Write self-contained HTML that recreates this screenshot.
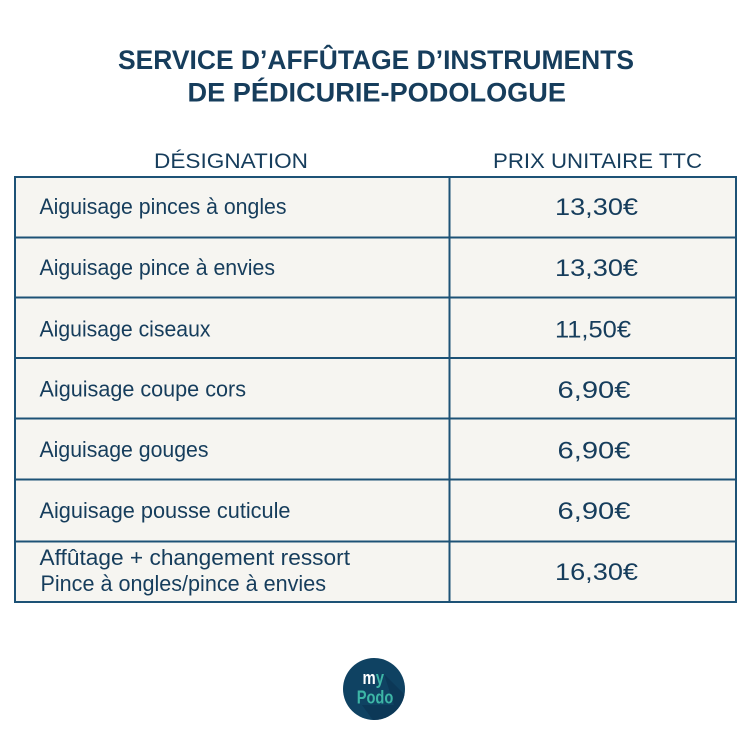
<!DOCTYPE html>
<html>
<head>
<meta charset="utf-8">
<style>
  html, body { margin:0; padding:0; background:#ffffff; }
  body { width:750px; height:750px; overflow:hidden; }
  svg { display:block; }
  text { font-family: "Liberation Sans", "DejaVu Sans", sans-serif; fill:#163d5c; }
</style>
</head>
<body>
<svg width="750" height="750" viewBox="0 0 750 750" xmlns="http://www.w3.org/2000/svg">
  <rect x="0" y="0" width="750" height="750" fill="#ffffff"/>

  <!-- Title -->
  <text x="118" y="69" font-size="27" font-weight="bold" textLength="516" lengthAdjust="spacingAndGlyphs">SERVICE D’AFFÛTAGE D’INSTRUMENTS</text>
  <text x="187.5" y="101.5" font-size="27" font-weight="bold" textLength="378.5" lengthAdjust="spacingAndGlyphs">DE PÉDICURIE-PODOLOGUE</text>

  <!-- Column headers -->
  <text x="154" y="168" font-size="21" textLength="154" lengthAdjust="spacingAndGlyphs">DÉSIGNATION</text>
  <text x="493" y="168" font-size="21" textLength="209" lengthAdjust="spacingAndGlyphs">PRIX UNITAIRE TTC</text>

  <!-- Table background -->
  <rect x="15" y="177" width="721" height="425" fill="#f6f5f1"/>

  <!-- Grid lines -->
  <g stroke="#1d5276" stroke-width="2" fill="none">
    <rect x="15" y="177" width="721" height="425"/>
    <line x1="449.5" y1="177" x2="449.5" y2="602"/>
    <line x1="15" y1="237.5" x2="736" y2="237.5"/>
    <line x1="15" y1="297.5" x2="736" y2="297.5"/>
    <line x1="15" y1="358" x2="736" y2="358"/>
    <line x1="15" y1="418.5" x2="736" y2="418.5"/>
    <line x1="15" y1="479.5" x2="736" y2="479.5"/>
    <line x1="15" y1="541.5" x2="736" y2="541.5"/>
  </g>

  <!-- Row labels -->
  <g font-size="22.5">
    <text x="39.5" y="214" textLength="247" lengthAdjust="spacingAndGlyphs">Aiguisage pinces à ongles</text>
    <text x="39.5" y="275" textLength="235.5" lengthAdjust="spacingAndGlyphs">Aiguisage pince à envies</text>
    <text x="39.5" y="336.5" textLength="171" lengthAdjust="spacingAndGlyphs">Aiguisage ciseaux</text>
    <text x="39.5" y="396.5" textLength="206.5" lengthAdjust="spacingAndGlyphs">Aiguisage coupe cors</text>
    <text x="39.5" y="457" textLength="169" lengthAdjust="spacingAndGlyphs">Aiguisage gouges</text>
    <text x="39.5" y="518" textLength="251" lengthAdjust="spacingAndGlyphs">Aiguisage pousse cuticule</text>
    <text x="39.5" y="565" textLength="310.5" lengthAdjust="spacingAndGlyphs">Affûtage + changement ressort</text>
    <text x="40.5" y="591" textLength="285.5" lengthAdjust="spacingAndGlyphs">Pince à ongles/pince à envies</text>
  </g>

  <!-- Prices -->
  <g font-size="24">
    <text x="555" y="215" textLength="83" lengthAdjust="spacingAndGlyphs">13,30€</text>
    <text x="555" y="276" textLength="83" lengthAdjust="spacingAndGlyphs">13,30€</text>
    <text x="555" y="337.3" textLength="76" lengthAdjust="spacingAndGlyphs">11,50€</text>
    <text x="557.5" y="398" textLength="73" lengthAdjust="spacingAndGlyphs">6,90€</text>
    <text x="557.5" y="458.3" textLength="73" lengthAdjust="spacingAndGlyphs">6,90€</text>
    <text x="557.5" y="519" textLength="73" lengthAdjust="spacingAndGlyphs">6,90€</text>
    <text x="555" y="580" textLength="83" lengthAdjust="spacingAndGlyphs">16,30€</text>
  </g>

  <!-- Logo -->
  <defs>
    <clipPath id="lc"><circle cx="374" cy="689" r="31"/></clipPath>
  </defs>
  <circle cx="374" cy="689" r="31" fill="#0f4262"/>
  <g clip-path="url(#lc)">
    <polygon points="384,674 406,696 406,730 380,730 362,705 394,705" fill="#0b3655" opacity="0.8"/>
  </g>
  <text x="362.5" y="684" font-size="18" font-weight="bold" style="fill:#ffffff" textLength="21.5" lengthAdjust="spacingAndGlyphs">m<tspan style="fill:#3db6a6">y</tspan></text>
  <text x="356.7" y="703.3" font-size="18" font-weight="bold" style="fill:#3db6a6" textLength="36.6" lengthAdjust="spacingAndGlyphs">Podo</text>
</svg>
</body>
</html>
